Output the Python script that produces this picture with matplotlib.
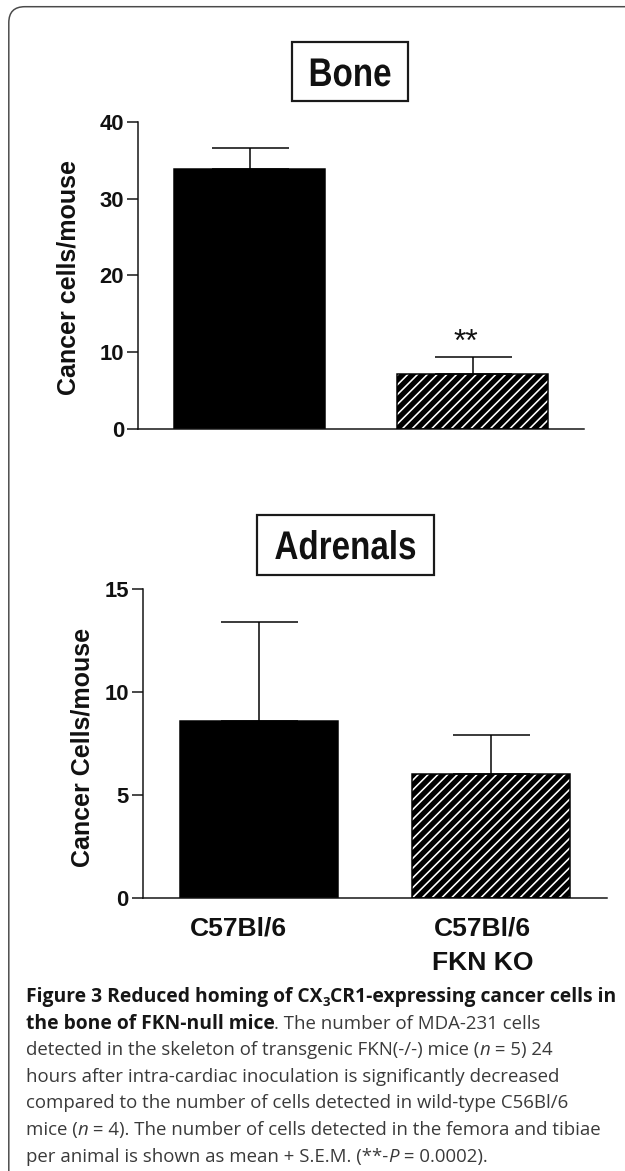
import matplotlib
matplotlib.use("Agg")
import matplotlib.pyplot as plt
import numpy as np
from matplotlib.transforms import IdentityTransform, blended_transform_factory, Affine2D
from matplotlib.patches import FancyBboxPatch, Rectangle
from matplotlib import font_manager
from matplotlib.font_manager import FontProperties
from matplotlib.patheffects import AbstractPathEffect

# ---------------- data ----------------
groups = ["C57Bl/6", "C57Bl/6\nFKN KO"]
bone_mean = [33.8, 7.1]
bone_sem = [2.8, 2.3]
adrenal_mean = [8.6, 6.0]
adrenal_sem = [4.8, 1.9]
bone_ticks = [0, 10, 20, 30, 40]
adrenal_ticks = [0, 5, 10, 15]
panel_titles = ["Bone", "Adrenals"]
ylabels = ["Cancer cells/mouse", "Cancer Cells/mouse"]
sig_label = "**"

caption_lines = [
    [("Figure 3 Reduced homing of CX", "b"), ("3", "bsub"), ("CR1-expressing cancer cells in", "b")],
    [("the bone of FKN-null mice", "b"), (". The number of MDA-231 cells", "r")],
    [("detected in the skeleton of transgenic FKN(-/-) mice (", "r"), ("n", "i"), (" = 5) 24", "r")],
    [("hours after intra-cardiac inoculation is significantly decreased", "r")],
    [("compared to the number of cells detected in wild-type C56Bl/6", "r")],
    [("mice (", "r"), ("n", "i"), (" = 4). The number of cells detected in the femora and tibiae", "r")],
    [("per animal is shown as mean + S.E.M. (**-", "r"), ("P", "i"), (" = 0.0002).", "r")],
]

# ---------------- layout ----------------
W, H, DPI = 625, 1171, 88


def pt(px):
    return px * 72.0 / DPI


def has_font(name):
    try:
        font_manager.findfont(FontProperties(family=name), fallback_to_default=False)
        return True
    except Exception:
        return False


HAS_NARROW = has_font("Liberation Sans Narrow")
NARROW = "Liberation Sans Narrow" if HAS_NARROW else "Liberation Sans"
SANS = "Liberation Sans"
CAP_FONT = "Open Sans" if has_font("Open Sans") else "DejaVu Sans"


class HScale(AbstractPathEffect):
    """Horizontally condense glyphs about a display x-position."""

    def __init__(self, sx, cx):
        super().__init__()
        self.sx = sx
        self.cx = cx

    def draw_path(self, renderer, gc, tpath, affine, rgbFace=None):
        aff = affine + Affine2D().translate(-self.cx, 0).scale(self.sx, 1).translate(self.cx, 0)
        renderer.draw_path(gc, tpath, aff, rgbFace)


plt.rcParams["hatch.linewidth"] = pt(1.6)
plt.rcParams["hatch.color"] = "white"

fig = plt.figure(figsize=(W / DPI, H / DPI), dpi=DPI)
ID = IdentityTransform()

# outer rounded frame (cut at right & bottom)
frame = FancyBboxPatch((8.8, -60), 800, (H - 6.7) + 60,
                       boxstyle="round,pad=0,rounding_size=16",
                       transform=ID, fill=False, ec="#4a4a4a", lw=pt(1.5))
fig.add_artist(frame)


def add_ax(left, top, right, bottom):
    return fig.add_axes([left / W, 1 - bottom / H, (right - left) / W, (bottom - top) / H])


ax1 = add_ax(138, 121.7, 584, 429)
ax2 = add_ax(142.7, 589, 606.7, 897.7)

BAR_W = 0.68


def draw_panel(ax, means, sems, ticks):
    x = np.arange(len(means))
    ax.bar(x[0], means[0], width=BAR_W, color="black", edgecolor="black",
           linewidth=pt(1.5), zorder=2)
    ax.bar(x[1], means[1], width=BAR_W, facecolor="black", edgecolor="white",
           hatch="///", linewidth=0, zorder=2)
    ax.bar(x[1], means[1], width=BAR_W, fill=False, edgecolor="black",
           linewidth=pt(1.5), zorder=3)
    ax.errorbar(x, means, yerr=[np.zeros(len(sems)), sems], fmt="none",
                ecolor="black", elinewidth=pt(1.5), capsize=pt(38.5),
                capthick=pt(1.5), zorder=4)
    ax.set_xlim(-0.5, 1.5)
    ax.set_ylim(0, ticks[-1])
    ax.set_yticks(ticks)
    ax.set_xticks([])
    for s in ("top", "right"):
        ax.spines[s].set_visible(False)
    for s in ("left", "bottom"):
        ax.spines[s].set_linewidth(pt(1.5))
        ax.spines[s].set_color("#111111")
    ax.tick_params(axis="y", direction="out", length=pt(11), width=pt(1.5),
                   pad=pt(3), labelsize=pt(22), color="#111111")
    for lab in ax.get_yticklabels():
        lab.set_fontweight("bold")
        lab.set_family(SANS)
        lab.set_color("#111111")
    ax.patch.set_alpha(0)
    return x


draw_panel(ax1, bone_mean, bone_sem, bone_ticks)
x2 = draw_panel(ax2, adrenal_mean, adrenal_sem, adrenal_ticks)

# significance stars
ax1.text(0.97, 10.2, sig_label, ha="center", va="baseline", fontsize=pt(32),
         family=SANS, color="#111111")

# panel title boxes
boxes = [(292, 42, 408, 101, 86), (257, 515, 434, 575, 559)]
sx = 1.0 if HAS_NARROW else 0.83
for title, (l, t, r, b, base) in zip(panel_titles, boxes):
    fig.add_artist(Rectangle((l, H - b), r - l, b - t, transform=ID, fill=False,
                             ec="#1a1a1a", lw=pt(2.2)))
    cx = (l + r) / 2
    txt = fig.text(cx, H - base, title, transform=ID, ha="center", va="baseline",
                   fontsize=pt(40), fontweight="bold", family=NARROW, color="#111111")
    if sx != 1.0:
        txt.set_path_effects([HScale(sx, cx)])

# y labels
for lab, (cx, cy) in zip(ylabels, [(68, 277.5), (83, 747)]):
    fig.text(cx, H - cy, lab, transform=ID, ha="center", va="center", rotation=90,
             fontsize=pt(25), fontweight="bold", family=SANS, color="#111111")

# group labels under the lower panel
px_per_unit = (606.7 - 142.7) / 2.0
label_dx = [-20, -8]
trans = blended_transform_factory(ax2.transData, ID)
for xi, g, dx in zip(x2, groups, label_dx):
    for k, line in enumerate(g.split("\n")):
        ax2.text(xi + dx / px_per_unit, H - (936 + 34 * k), line, transform=trans,
                 ha="center", va="baseline", fontsize=pt(26.5), fontweight="bold",
                 family=SANS, color="#111111", clip_on=False)

# ---------------- caption ----------------
renderer = fig.canvas.get_renderer()


def props(style, size):
    if style == "b":
        return FontProperties(family=CAP_FONT, weight="bold", size=size)
    if style == "bsub":
        return FontProperties(family=CAP_FONT, weight="bold", size=size * 0.68)
    if style == "i":
        return FontProperties(family=CAP_FONT, style="italic", size=size)
    return FontProperties(family=CAP_FONT, size=size)


def adv(s, fp):
    w1, _, _ = renderer.get_text_width_height_descent("x" + s + "x", fp, ismath=False)
    w0, _, _ = renderer.get_text_width_height_descent("xx", fp, ismath=False)
    return w1 - w0


def line_width(runs, size_r, size_b):
    tot = 0
    for s, st in runs:
        size = size_b if st in ("b", "bsub") else size_r
        tot += adv(s, props(st, size))
    return tot


base = 10.0
targets_r = [(caption_lines[3], 523), (caption_lines[4], 551)]
ratios = [t / line_width(r, base, base) for r, t in targets_r]
size_r = base * float(np.mean(ratios))
size_b = base * 590 / line_width(caption_lines[0], base, base)

x0 = 26
baselines = [1002 + 26.6 * i for i in range(len(caption_lines))]
for runs, bl in zip(caption_lines, baselines):
    xp = x0
    for s, st in runs:
        size = size_b if st in ("b", "bsub") else size_r
        fp = props(st, size)
        yoff = -0.22 * size * DPI / 72 if st == "bsub" else 0
        color = "#161616" if st in ("b", "bsub") else "#3a3a3a"
        fig.text(xp, H - bl + yoff, s, transform=ID, ha="left", va="baseline",
                 fontproperties=fp, color=color)
        xp += adv(s, fp)

fig.savefig("out.png", dpi=DPI)
